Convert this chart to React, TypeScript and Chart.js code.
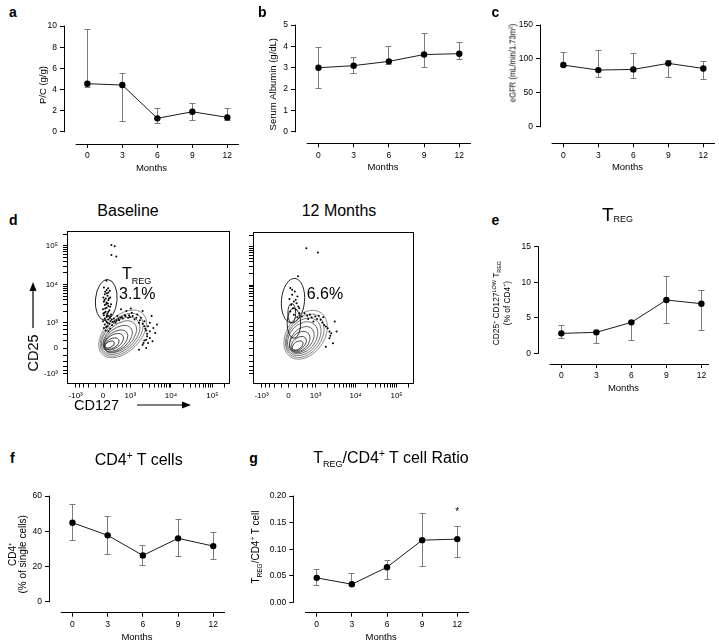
import React, { useEffect, useRef } from 'react';
import { Chart, registerables } from 'chart.js';

Chart.register(...registerables);

const FONT = '"Liberation Sans", Arial, Helvetica, sans-serif';
Chart.defaults.font.family = FONT;
Chart.defaults.color = '#000';

// ---------------- data ----------------
const months = [0, 3, 6, 9, 12];
const monthTicks = [0, 3, 6, 9, 12];

// a: P/C (g/g)
const pcMean = [4.55, 4.42, 1.27, 1.89, 1.36];
const pcUpper = [9.7, 5.52, 2.18, 2.69, 2.18];
const pcLower = [4.2, 0.95, 0.8, 1.04, 1.05];
const pcTicks = [0, 2, 4, 6, 8, 10];

// b: Serum albumin (g/dL)
const albMean = [3.0, 3.1, 3.3, 3.62, 3.66];
const albUpper = [3.96, 3.49, 3.98, 4.59, 4.2];
const albLower = [2.03, 2.74, 3.13, 3.02, 3.39];
const albTicks = [0, 1, 2, 3, 4, 5];

// c: eGFR
const egfrMean = [91, 83.6, 84.6, 93.5, 86];
const egfrUpper = [109, 113, 108, 97.3, 97];
const egfrLower = [89, 72.8, 71.3, 72.8, 70];
const egfrTicks = [0, 50, 100, 150];

// e: TREG % of CD4+
const tregMean = [2.81, 2.95, 4.36, 7.5, 6.98];
const tregUpper = [3.98, 3.28, 4.5, 10.77, 8.8];
const tregLower = [2.1, 1.41, 1.78, 4.22, 3.28];
const tregTicks = [0, 5, 10, 15];

// f: CD4+ % of single cells
const cd4Mean = [44.9, 37.7, 26.3, 36.0, 31.6];
const cd4Upper = [55.5, 48.3, 31.8, 46.8, 39.6];
const cd4Lower = [34.5, 27.1, 20.4, 25.6, 24.1];
const cd4Ticks = [0, 20, 40, 60];

// g: TREG / CD4+ ratio
const ratioMean = [0.046, 0.034, 0.066, 0.117, 0.119];
const ratioUpper = [0.062, 0.054, 0.0796, 0.167, 0.142];
const ratioLower = [0.032, 0.032, 0.042, 0.067, 0.084];
const ratioTicks = [0, 0.05, 0.1, 0.15, 0.2];
const ratioMarks = ['', '', '', '', '*'];

// d: flow cytometry (values in display units of the biexponential axis)
const flowMajorRaw = [-1000, 0, 1000, 10000, 100000];
const flowMajorLabels = ['-10³', '0', '10³', '10⁴', '10⁵'];
const flowMinorRaw = [-800, -600, -400, -200, 200, 400, 600, 800, 2000, 3000, 4000, 5000, 6000, 7000, 8000, 9000,
  20000, 30000, 40000, 50000, 60000, 70000, 80000, 90000, 200000];

const baseRingU = [1.09, 1.04, 0.98, 0.93, 0.82, 0.71, 0.6, 0.49, 0.37];
const baseRingV = [0.84, 0.79, 0.73, 0.67, 0.55, 0.44, 0.38, 0.27, 0.21];
const baseRingA = [1.6, 1.44, 1.27, 1.1, 0.94, 0.77, 0.61, 0.44, 0.28];
const baseRingB = [1.05, 0.94, 0.83, 0.72, 0.61, 0.5, 0.39, 0.28, 0.17];
const baseRingAng = [45, 45, 43, 42, 40, 38, 35, 30, 25];
const baseGate = [0.18, 2.86, 0.6, 1.21, -5];
const baseEvents: [number, number][] = [
  [0.47, 6.11], [0.65, 6.04], [0.47, 5.53], [0.74, 5.44], [0.19, 4.0],
  [0.05, 3.6], [0.2, 3.45], [0.3, 3.3], [0.1, 3.2], [0.25, 3.1], [0.4, 3.0], [0.15, 2.95], [0.3, 2.85],
  [0.05, 2.75], [0.2, 2.7], [0.45, 2.6], [0.1, 2.55], [0.3, 2.5], [0.2, 2.4], [0.0, 2.3], [0.35, 2.25],
  [0.15, 2.15], [0.25, 2.05], [0.05, 1.95], [0.4, 1.9], [0.2, 1.85], [0.1, 1.75], [0.3, 1.7], [0.0, 1.6],
  [0.2, 1.55], [0.35, 1.45], [0.1, 1.4], [0.25, 1.3], [0.05, 1.2], [0.4, 1.15], [0.15, 1.05], [0.3, 1.0],
  [0.12, 3.35], [0.28, 3.55], [0.18, 2.62], [0.33, 2.95], [0.08, 2.1], [0.28, 1.9], [0.18, 1.25], [0.42, 1.6],
  [0.5, 1.35], [0.6, 1.75], [0.8, 1.9], [1.0, 2.3], [1.3, 2.2], [1.6, 2.1], [1.9, 2.0], [1.2, 1.95],
  [1.5, 1.85], [2.1, 1.8], [1.75, 1.7], [2.3, 1.6], [2.0, 1.5], [2.5, 1.3], [2.35, 1.15], [2.6, 1.0],
  [2.45, 0.85], [2.6, 0.6], [2.3, 0.45], [2.5, 0.3], [2.2, 0.2], [2.7, 1.9], [3.0, 1.4], [2.9, 0.9],
  [1.1, 1.75], [0.7, 1.5], [0.9, 1.65], [1.4, 1.8], [2.75, 0.4], [2.4, 0.0], [2.0, -0.1],
  [0.02, 3.0], [0.22, 3.25], [0.38, 3.4], [0.08, 2.85], [0.27, 2.65], [0.4, 2.45], [0.12, 2.35], [0.3, 2.15],
  [0.45, 2.0], [0.02, 2.05], [0.22, 1.95], [0.38, 1.8], [0.12, 1.65], [0.48, 1.7], [0.25, 1.5], [0.55, 1.55],
  [0.65, 1.6], [0.75, 1.65], [0.85, 1.72], [0.95, 1.8], [1.05, 1.85], [1.25, 1.9], [1.45, 1.95], [1.65, 1.9],
  [1.85, 1.8], [2.05, 1.65], [2.2, 1.45], [2.3, 1.3], [2.4, 1.05], [2.45, 0.7], [2.4, 0.5], [2.25, 0.3],
  [2.6, 1.5], [2.8, 1.2], [1.55, 2.35], [2.2, 2.2],
];

const m12RingU = [0.96, 0.91, 0.85, 0.79, 0.74, 0.63, 0.57, 0.51, 0.18, 0.3];
const m12RingV = [0.81, 0.75, 0.69, 0.63, 0.52, 0.4, 0.28, 0.17, 2.1, 1.5];
const m12RingA = [1.51, 1.34, 1.17, 1.0, 0.84, 0.67, 0.5, 0.34, 0.22, 0.38];
const m12RingB = [1.12, 1.0, 0.89, 0.78, 0.61, 0.5, 0.34, 0.22, 0.58, 0.9];
const m12RingAng = [55, 55, 52, 50, 48, 45, 40, 35, 0, 0];
const m12Gate = [0.25, 2.85, 0.65, 1.33, -5];
const m12Events: [number, number][] = [
  [1.0, 5.98], [1.65, 5.73], [0.53, 4.31],
  [0.1, 3.6], [0.35, 3.4], [0.2, 3.2], [0.5, 3.1], [0.05, 2.95], [0.3, 2.8], [0.45, 2.7], [0.15, 2.6],
  [0.55, 2.5], [0.25, 2.4], [0.4, 2.3], [0.1, 2.2], [0.6, 2.1], [0.3, 2.0], [0.5, 1.85],
  [0.9, 2.1], [1.2, 2.0], [1.5, 1.9], [1.1, 1.75], [1.8, 1.7], [1.4, 1.6], [2.0, 1.4], [2.2, 1.2],
  [2.4, 0.9], [2.3, 0.6], [2.5, 0.3], [2.1, 0.1], [2.7, 1.0], [1.7, 1.95], [2.6, 1.6], [0.75, 1.9], [1.95, 1.85],
  [1.05, 1.95], [1.3, 1.85], [1.6, 1.75], [1.9, 1.55], [2.1, 1.3], [2.3, 1.0], [2.35, 0.75], [0.2, 3.5],
  [0.4, 2.9], [0.6, 2.4],
];

// ---------------- helpers ----------------
const ERR_COLOR = '#7c7c7c';
const al = (v: number) => Math.round(v - 0.5) + 0.5;
const logicle = (raw: number) => Math.asinh(raw / 460);

type LineSpec = {
  areaLeft: number; areaRight: number; areaTop: number; areaBottom: number;
  titleCx?: number; canvasLeft?: number;
  xMin: number; xMax: number; xLineStart: number;
  yMin: number; yMax: number; yTicks: number[]; yDecimals: number;
  yTitle: string | string[] | null; titleAlign?: 'center' | 'end';
  titleSize?: number; titleLH?: number;
  mean: number[]; lo: number[]; hi: number[]; marks?: string[];
};

function LinePanel({ s }: { s: LineSpec }) {
  const ref = useRef<HTMLCanvasElement>(null);
  const XH = 32;
  const tSize = s.titleSize ?? 9.5;
  const tLH = s.titleLH ?? 1.2;
  const tLine = tSize * tLH;
  const left = s.titleCx != null ? Math.floor(s.titleCx - tLine / 2) : Math.floor(s.canvasLeft as number);
  const top = Math.floor(s.areaTop - 8);
  const width = Math.ceil(s.areaRight + 2 - left);
  const height = Math.round(s.areaBottom + XH - top);
  useEffect(() => {
    const canvas = ref.current as HTMLCanvasElement;
    const padTitle = s.titleCx != null ? s.titleCx - left - tLine / 2 : 0;
    const yW = s.areaLeft - left;
    const plugin = {
      id: 'prism',
      beforeDatasetsDraw(chart: any) {
        const { ctx, chartArea, scales } = chart;
        const x = scales.x, y = scales.y;
        ctx.save();
        ctx.strokeStyle = '#000';
        ctx.lineWidth = 1;
        const ax = al(chartArea.left);
        ctx.beginPath();
        ctx.moveTo(ax, y.getPixelForValue(0) + 0.5);
        ctx.lineTo(ax, y.getPixelForValue(s.yMax) - 0.5);
        ctx.stroke();
        const by = al(chartArea.bottom);
        ctx.beginPath();
        ctx.moveTo(x.getPixelForValue(s.xLineStart), by);
        ctx.lineTo(x.getPixelForValue(s.xMax), by);
        ctx.stroke();
        ctx.strokeStyle = ERR_COLOR;
        const cap = 3;
        months.forEach((m, i) => {
          const xp = al(x.getPixelForValue(m));
          const pl = al(y.getPixelForValue(s.lo[i]));
          const ph = al(y.getPixelForValue(s.hi[i]));
          ctx.beginPath();
          ctx.moveTo(xp, pl); ctx.lineTo(xp, ph);
          ctx.moveTo(xp - cap, pl); ctx.lineTo(xp + cap, pl);
          ctx.moveTo(xp - cap, ph); ctx.lineTo(xp + cap, ph);
          ctx.stroke();
        });
        ctx.restore();
      },
      afterDatasetsDraw(chart: any) {
        if (!s.marks) return;
        const { ctx, scales } = chart;
        ctx.save();
        ctx.fillStyle = '#000';
        ctx.font = `10px ${FONT}`;
        ctx.textAlign = 'center';
        ctx.textBaseline = 'alphabetic';
        s.marks.forEach((mk, i) => {
          if (!mk) return;
          ctx.fillText(mk, scales.x.getPixelForValue(months[i]), scales.y.getPixelForValue(s.hi[i]) - 12);
        });
        ctx.restore();
      },
    };
    const gridOpts = { drawOnChartArea: false, drawTicks: true, tickLength: 4, color: '#000', lineWidth: 1 };
    const chart = new Chart(canvas, {
      type: 'scatter',
      data: {
        datasets: [{
          data: months.map((m, i) => ({ x: m, y: s.mean[i] })),
          showLine: true,
          borderColor: '#1a1a1a',
          borderWidth: 1,
          pointRadius: 3.2,
          pointBackgroundColor: '#000',
          pointBorderWidth: 0,
          tension: 0,
        }],
      },
      options: {
        responsive: false,
        animation: false,
        events: [],
        layout: {
          padding: {
            left: 0,
            top: s.areaTop - top,
            right: left + width - s.areaRight,
            bottom: top + height - XH - s.areaBottom,
          },
        },
        plugins: { legend: { display: false }, tooltip: { enabled: false } },
        scales: {
          x: {
            type: 'linear', min: s.xMin, max: s.xMax,
            afterBuildTicks: (sc: any) => { sc.ticks = monthTicks.map((v) => ({ value: v })); },
            afterFit: (sc: any) => { sc.height = XH; },
            grid: gridOpts,
            border: { display: false },
            ticks: { autoSkip: false, maxRotation: 0, padding: 3, font: { size: 8.5 }, color: '#000', callback: (v: any) => String(v) },
            title: { display: true, text: 'Months', color: '#000', font: { size: 9.5 }, padding: { top: 0, bottom: 2 } },
          },
          y: {
            type: 'linear', min: s.yMin, max: s.yMax,
            afterBuildTicks: (sc: any) => { sc.ticks = s.yTicks.map((v) => ({ value: v })); },
            afterFit: (sc: any) => { sc.width = yW; },
            grid: gridOpts,
            border: { display: false },
            ticks: { autoSkip: false, padding: 3, font: { size: 8.5 }, color: '#000', callback: (v: any) => Number(v).toFixed(s.yDecimals) },
            title: s.yTitle
              ? {
                display: true, text: s.yTitle, color: '#000', align: s.titleAlign ?? 'center',
                font: { size: tSize, lineHeight: tLH },
                padding: { top: padTitle, bottom: 0 },
              }
              : { display: false },
          },
        },
      } as any,
      plugins: [plugin],
    });
    return () => chart.destroy();
  }, []);
  return <canvas ref={ref} width={width} height={height} style={{ position: 'absolute', left, top, width, height }} />;
}

type FlowSpec = {
  areaLeft: number; areaRight: number; areaTop: number; areaBottom: number; canvasLeft: number;
  showYLabels: boolean;
  ringU: number[]; ringV: number[]; ringA: number[]; ringB: number[]; ringAng: number[];
  gate: number[]; events: [number, number][];
};

function FlowPanel({ s }: { s: FlowSpec }) {
  const ref = useRef<HTMLCanvasElement>(null);
  const XH = 20;
  const left = s.canvasLeft;
  const top = Math.floor(s.areaTop - 6);
  const width = Math.ceil(s.areaRight + 3 - left);
  const height = Math.round(s.areaBottom + XH - top);
  useEffect(() => {
    const canvas = ref.current as HTMLCanvasElement;
    const tickList = [
      ...flowMajorRaw.map((r, i) => ({ value: logicle(r), label: flowMajorLabels[i] })),
      ...flowMinorRaw.map((r) => ({ value: logicle(r), label: '' })),
    ].sort((a, b) => a.value - b.value);
    const yW = s.areaLeft - left;
    const plugin = {
      id: 'flow',
      beforeDatasetsDraw(chart: any) {
        const { ctx, chartArea, scales } = chart;
        const x = scales.x, y = scales.y;
        const sx = Math.abs(x.getPixelForValue(1) - x.getPixelForValue(0));
        const sy = Math.abs(y.getPixelForValue(1) - y.getPixelForValue(0));
        ctx.save();
        ctx.beginPath();
        ctx.rect(chartArea.left, chartArea.top, chartArea.right - chartArea.left, chartArea.bottom - chartArea.top);
        ctx.clip();
        const n = s.ringU.length;
        for (let i = 0; i < n; i++) {
          const g = Math.max(20, 130 - i * 13);
          ctx.strokeStyle = `rgb(${g},${g},${g})`;
          ctx.lineWidth = 0.9;
          ctx.beginPath();
          ctx.ellipse(x.getPixelForValue(s.ringU[i]), y.getPixelForValue(s.ringV[i]),
            s.ringA[i] * sx, s.ringB[i] * sy, -s.ringAng[i] * Math.PI / 180, 0, Math.PI * 2);
          ctx.stroke();
        }
        ctx.restore();
      },
      afterDatasetsDraw(chart: any) {
        const { ctx, chartArea, scales } = chart;
        const x = scales.x, y = scales.y;
        const sx = Math.abs(x.getPixelForValue(1) - x.getPixelForValue(0));
        const sy = Math.abs(y.getPixelForValue(1) - y.getPixelForValue(0));
        ctx.save();
        ctx.strokeStyle = '#222';
        ctx.lineWidth = 1;
        ctx.beginPath();
        ctx.ellipse(x.getPixelForValue(s.gate[0]), y.getPixelForValue(s.gate[1]),
          s.gate[2] * sx, s.gate[3] * sy, -s.gate[4] * Math.PI / 180, 0, Math.PI * 2);
        ctx.stroke();
        ctx.strokeStyle = '#000';
        const l = al(chartArea.left), r = al(chartArea.right), t = al(chartArea.top), b = al(chartArea.bottom);
        ctx.strokeRect(l, t, r - l, b - t);
        ctx.restore();
      },
    };
    const gridOpts = { drawOnChartArea: false, drawTicks: true, tickLength: 4, color: '#000', lineWidth: 1 };
    const chart = new Chart(canvas, {
      type: 'scatter',
      data: {
        datasets: [{
          data: s.events.map(([u, v]) => ({ x: u, y: v })),
          pointRadius: 1.0,
          pointBackgroundColor: '#000',
          pointBorderWidth: 0,
        }],
      },
      options: {
        responsive: false,
        animation: false,
        events: [],
        layout: {
          padding: {
            left: 0,
            top: s.areaTop - top,
            right: left + width - s.areaRight,
            bottom: top + height - XH - s.areaBottom,
          },
        },
        plugins: { legend: { display: false }, tooltip: { enabled: false } },
        scales: {
          x: {
            type: 'linear', min: -2, max: 7,
            afterBuildTicks: (sc: any) => { sc.ticks = tickList.map((t) => ({ value: t.value })); },
            afterFit: (sc: any) => { sc.height = XH; },
            grid: gridOpts,
            border: { display: false },
            ticks: { autoSkip: false, maxRotation: 0, padding: 3, font: { size: 8 }, color: '#000', callback: (_v: any, i: number) => tickList[i].label },
          },
          y: {
            type: 'linear', min: -2.1, max: 6.9,
            afterBuildTicks: (sc: any) => { sc.ticks = tickList.map((t) => ({ value: t.value })); },
            afterFit: (sc: any) => { sc.width = yW; },
            grid: gridOpts,
            border: { display: false },
            ticks: { autoSkip: false, padding: 5, font: { size: 8 }, color: '#000', callback: (_v: any, i: number) => (s.showYLabels ? tickList[i].label : '') },
          },
        },
      } as any,
      plugins: [plugin],
    });
    return () => chart.destroy();
  }, []);
  return <canvas ref={ref} width={width} height={height} style={{ position: 'absolute', left, top, width, height }} />;
}

function Txt({ x, y, size, bold, anchor, family, children }: any) {
  const style: React.CSSProperties = {
    position: 'absolute', left: x, top: y - size * 0.8465, fontSize: size, lineHeight: `${size}px`,
    fontFamily: family || FONT, fontWeight: bold ? 700 : 400, whiteSpace: 'nowrap', color: '#000',
    transform: anchor === 'middle' ? 'translateX(-50%)' : anchor === 'end' ? 'translateX(-100%)' : undefined,
  };
  return <div style={style}>{children}</div>;
}

function Sub({ size, shift, children }: any) {
  return <span style={{ fontSize: size, position: 'relative', top: shift, lineHeight: 0, verticalAlign: 'baseline' }}>{children}</span>;
}

function VTxt({ cx, cy, size, lh, family, squeeze, children }: any) {
  return (
    <div style={{
      position: 'absolute', left: cx, top: cy,
      transform: `translate(-50%, -50%) rotate(-90deg)${squeeze ? ` scaleX(${squeeze})` : ''}`,
      fontSize: size, lineHeight: `${lh}px`, whiteSpace: 'nowrap', textAlign: 'center', fontFamily: family || FONT, color: '#000',
    }}>{children}</div>
  );
}

const specA: LineSpec = { areaLeft: 64, areaRight: 240.7, areaTop: 26, areaBottom: 144, titleCx: 43, xMin: -2, xMax: 13, xLineStart: -1, yMin: -1.16, yMax: 10, yTicks: pcTicks, yDecimals: 0, yTitle: 'P/C (g/g)', mean: pcMean, lo: pcLower, hi: pcUpper };
const specB: LineSpec = { areaLeft: 295, areaRight: 473, areaTop: 25, areaBottom: 143.3, titleCx: 273, xMin: -2, xMax: 13, xLineStart: -1, yMin: -0.54, yMax: 5, yTicks: albTicks, yDecimals: 0, yTitle: 'Serum Albumin (g/dL)', mean: albMean, lo: albLower, hi: albUpper };
const specC: LineSpec = { areaLeft: 540, areaRight: 717, areaTop: 25, areaBottom: 143.3, canvasLeft: 508, xMin: -2, xMax: 13, xLineStart: -1, yMin: -24.5, yMax: 150, yTicks: egfrTicks, yDecimals: 0, yTitle: null, mean: egfrMean, lo: egfrLower, hi: egfrUpper };
const specE: LineSpec = { areaLeft: 538, areaRight: 710.1, areaTop: 246.7, areaBottom: 364, canvasLeft: 510, xMin: -2, xMax: 12.65, xLineStart: -1, yMin: -1.5, yMax: 15, yTicks: tregTicks, yDecimals: 0, yTitle: null, mean: tregMean, lo: tregLower, hi: tregUpper };
const specF: LineSpec = { areaLeft: 49, areaRight: 226.9, areaTop: 496, areaBottom: 612.7, titleCx: 13.3, xMin: -2, xMax: 13, xLineStart: -1, yMin: -6.24, yMax: 60, yTicks: cd4Ticks, yDecimals: 0, yTitle: ['CD4⁺', '(% of single cells)'], titleSize: 10, titleLH: 0.95, mean: cd4Mean, lo: cd4Lower, hi: cd4Upper };
const specG: LineSpec = { areaLeft: 293.3, areaRight: 470.5, areaTop: 496, areaBottom: 612.7, canvasLeft: 262, xMin: -2, xMax: 13, xLineStart: -1, yMin: -0.0196, yMax: 0.2, yTicks: ratioTicks, yDecimals: 2, yTitle: null, mean: ratioMean, lo: ratioLower, hi: ratioUpper, marks: ratioMarks };

const flowBase: FlowSpec = { areaLeft: 67, areaRight: 230, areaTop: 228, areaBottom: 383.5, canvasLeft: 30, showYLabels: true, ringU: baseRingU, ringV: baseRingV, ringA: baseRingA, ringB: baseRingB, ringAng: baseRingAng, gate: baseGate, events: baseEvents };
const flowM12: FlowSpec = { areaLeft: 253, areaRight: 414, areaTop: 229, areaBottom: 383.5, canvasLeft: 238, showYLabels: false, ringU: m12RingU, ringV: m12RingV, ringA: m12RingA, ringB: m12RingB, ringAng: m12RingAng, gate: m12Gate, events: m12Events };

export default function App() {
  return (
    <div style={{ position: 'fixed', left: 0, top: 0, width: 719, height: 643, background: '#fff', overflow: 'hidden', fontFamily: FONT }}>
      <LinePanel s={specA} />
      <LinePanel s={specB} />
      <LinePanel s={specC} />
      <LinePanel s={specE} />
      <LinePanel s={specF} />
      <LinePanel s={specG} />
      <FlowPanel s={flowBase} />
      <FlowPanel s={flowM12} />

      {/* panel letters */}
      <Txt x={9} y={16.7} size={14} bold>a</Txt>
      <Txt x={258} y={16.7} size={14} bold>b</Txt>
      <Txt x={491.5} y={16.7} size={14} bold>c</Txt>
      <Txt x={9} y={225} size={14} bold>d</Txt>
      <Txt x={491.5} y={225} size={14} bold>e</Txt>
      <Txt x={10} y={462.7} size={14} bold>f</Txt>
      <Txt x={249.3} y={462.5} size={14} bold>g</Txt>

      {/* panel c axis title */}
      <VTxt cx={511.7} cy={63} size={9.5} lh={11} squeeze={0.8}>eGFR (mL/min/1.73m<Sub size={6} shift={-3.5}>2</Sub>)</VTxt>

      {/* panel d titles and annotations */}
      <Txt x={128} y={217} size={16} anchor="middle">Baseline</Txt>
      <Txt x={339} y={217} size={16} anchor="middle">12 Months</Txt>
      <Txt x={122} y={280} size={16}>T<Sub size={9} shift={5}>REG</Sub></Txt>
      <Txt x={119} y={300} size={16}>3.1%</Txt>
      <Txt x={306.7} y={300} size={16}>6.6%</Txt>
      <VTxt cx={33} cy={353} size={14.5} lh={16}>CD25</VTxt>
      <Txt x={74} y={410} size={14.5}>CD127</Txt>
      <svg width={719} height={643} style={{ position: 'absolute', left: 0, top: 0, pointerEvents: 'none' }}>
        <line x1={33} y1={328} x2={33} y2={290} stroke="#000" strokeWidth={1.2} />
        <polygon points="33,282 29.5,291 36.5,291" fill="#000" />
        <line x1={137} y1={405} x2={183} y2={405} stroke="#000" strokeWidth={1.2} />
        <polygon points="191,405 182,401.5 182,408.5" fill="#000" />
      </svg>

      {/* panel e */}
      <Txt x={602} y={221} size={19}>T<Sub size={9} shift={1}>REG</Sub></Txt>
      <VTxt cx={501.5} cy={303} size={8.3} lh={10.7}>
        <div>CD25<Sub size={5.5} shift={-3.5}>+</Sub> CD127<Sub size={5.5} shift={-3.5}>LOW</Sub> T<Sub size={5.5} shift={2}>REG</Sub></div>
        <div>(% of CD4<Sub size={5.5} shift={-3.5}>+</Sub>)</div>
      </VTxt>

      {/* panel f */}
      <Txt x={138.7} y={466} size={16} anchor="middle">CD4<Sub size={10} shift={-6}>+</Sub> T cells</Txt>

      {/* panel g */}
      <Txt x={391} y={463.5} size={16} anchor="middle">T<Sub size={9} shift={4}>REG</Sub>/CD4<Sub size={10} shift={-6}>+</Sub> T cell Ratio</Txt>
      <VTxt cx={256} cy={547} size={10} lh={12}>T<Sub size={6.5} shift={2.5}>REG</Sub>/CD4<Sub size={6.5} shift={-4}>+</Sub> T cell</VTxt>
    </div>
  );
}
